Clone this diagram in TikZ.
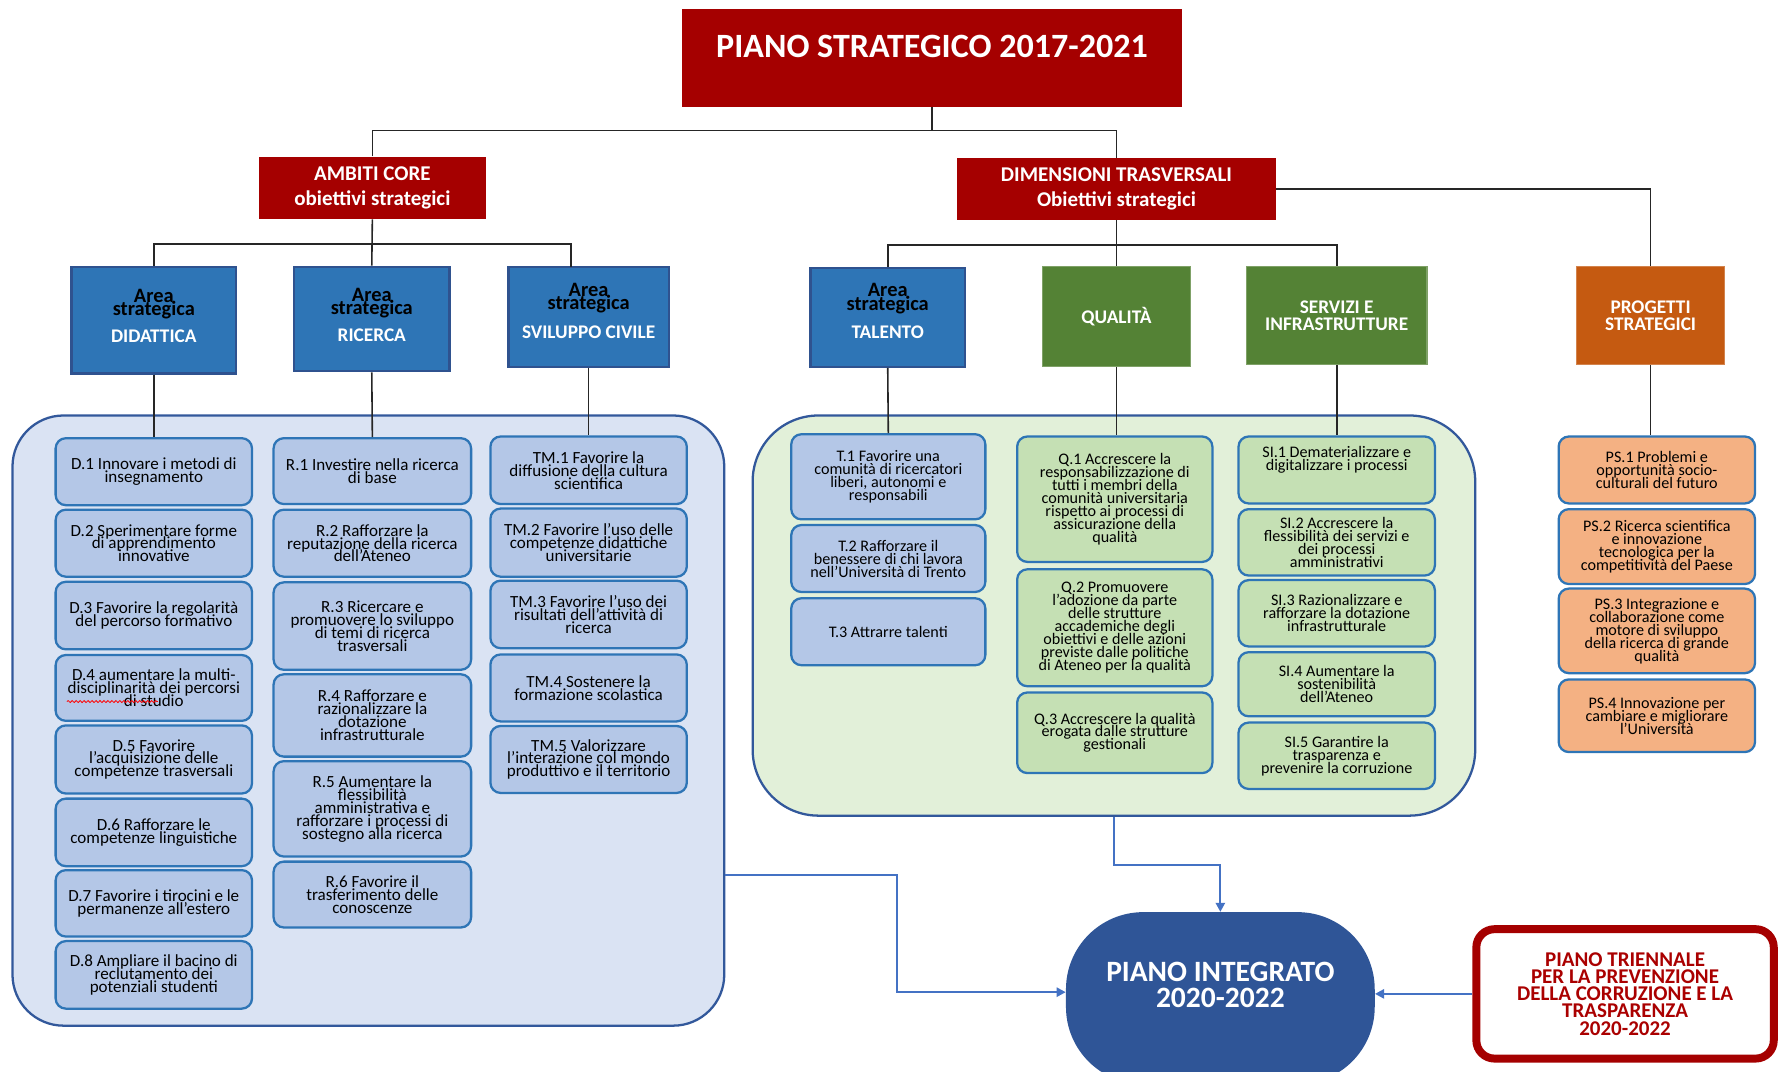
\documentclass[tikz,border=0pt]{standalone}
\usepackage{fontspec}
\setmainfont{Carlito}
\usetikzlibrary{arrows.meta,decorations.pathmorphing,calc}

\definecolor{dred}{RGB}{165,0,0}
\definecolor{ablue}{RGB}{46,117,182}
\definecolor{aborder}{RGB}{47,82,143}
\definecolor{agreen}{RGB}{84,130,53}
\definecolor{aorange}{RGB}{197,90,17}
\definecolor{lblue}{RGB}{180,199,231}
\definecolor{lgreen}{RGB}{197,224,180}
\definecolor{lorange}{RGB}{244,177,131}
\definecolor{sborder}{RGB}{46,117,182}
\definecolor{contLfill}{RGB}{218,227,243}
\definecolor{contRfill}{RGB}{226,240,217}
\definecolor{contborder}{RGB}{50,88,155}
\definecolor{piblue}{RGB}{47,85,151}
\definecolor{arrblue}{RGB}{68,114,196}
\definecolor{trired}{RGB}{170,0,0}

\newcommand\tightlines{\lineskiplimit=-50pt\relax\lineskip=0pt\relax}
\newcommand\fsmall{\fontsize{15}{11.4}\selectfont\tightlines}
\newcommand\fsmallr{\fontsize{14.2}{11.4}\selectfont\tightlines}
\newcommand\farea{\fontsize{18}{12}\selectfont\bfseries\tightlines}
\newcommand\flabel{\fontsize{17}{17}\selectfont\bfseries}
\newcommand\fcond{\fontsize{17}{15}\selectfont\bfseries\tightlines}

\newcommand\mybox[7]{\node[#2, minimum width={(#5-#3)*1pt}, minimum height={(#6-#4)*1pt}] (#1) at ({(#3+#5)/2},{(#4+#6)/2}) {#7};}

\tikzset{
  sbox/.style={draw=sborder, line width=2pt, rounded corners=9pt, inner sep=0pt, align=center, font=\fsmall, text=black},
  sblue/.style={sbox, fill=lblue},
  stal/.style={sbox, fill=lblue, font=\fsmallr},
  sgreen/.style={sbox, fill=lgreen, font=\fsmallr},
  sorange/.style={sbox, fill=lorange, font=\fsmallr},
  areabox/.style={fill=ablue, draw=aborder, line width=2pt, inner sep=0pt},
  areatxt/.style={inner sep=0pt, align=center, font=\farea, text=black},
  arealbl/.style={inner sep=0pt, font=\flabel, text=white},
  gbox/.style={fill=agreen, draw=agreen!75!white, line width=1pt, inner sep=0pt, align=center, font=\fcond, text=white},
  obox/.style={fill=aorange, draw=aorange!75!white, line width=1pt, inner sep=0pt, align=center, font=\fcond, text=white},
  redbox/.style={fill=dred, draw=none, inner sep=0pt, align=center, text=white, font=\fontsize{18.5}{22}\selectfont\bfseries\tightlines},
  titlebox/.style={fill=dred, draw=none, inner sep=0pt},
  titletxt/.style={inner sep=0pt, text=white, font=\fontsize{30}{36}\selectfont\bfseries},
  contL/.style={draw=contborder, line width=2pt, fill=contLfill, rounded corners=45pt, inner sep=0pt},
  contR/.style={draw=contborder, line width=2pt, fill=contRfill, rounded corners=58pt, inner sep=0pt},
  pistyle/.style={fill=piblue, draw=none, rounded corners=68pt, inner sep=0pt},
  pitxt/.style={inner sep=0pt, align=center, text=white, font=\fontsize{26}{23}\selectfont\bfseries\tightlines},
  sitxt/.style={inner sep=0pt, align=center, text=black, font=\fsmallr},
  tristyle/.style={draw=dred, line width=7pt, fill=white, rounded corners=16pt, inner sep=0pt, align=center, text=trired, font=\fontsize{18.5}{15.2}\selectfont\bfseries\tightlines},
  conn/.style={draw=black!85, line width=1.4pt},
  arr/.style={draw=arrblue, line width=2pt, -{Triangle[length=8pt,width=8pt]}},
}

\begin{document}
\begin{tikzpicture}[x=1pt,y=-1pt]
\useasboundingbox (0,0) rectangle (1568,944);
\clip (0,0) rectangle (1568,944);

% containers
\mybox{lcont}{contL}{11}{366}{638}{903.5}{}
\mybox{rcont}{contR}{663}{366}{1299.5}{718.5}{}

% top level
\mybox{title}{titlebox}{601}{8}{1041}{94}{}
\node[titletxt] (titlet) at (821,41) {PIANO STRATEGICO 2017-2021};
\mybox{ambiti}{redbox}{228}{138}{428}{193}{AMBITI CORE\\obiettivi strategici}
\mybox{dim}{redbox}{843}{139}{1124}{194}{DIMENSIONI TRASVERSALI\\Obiettivi strategici}

% area boxes
\mybox{did}{areabox}{63}{235}{208}{329}{}
\node[areatxt] (didA) at (135.5,268) {Area\\strategica};
\node[arealbl] (didL) at (135.5,296) {DIDATTICA};
\mybox{ric}{areabox}{259}{235}{396}{327}{}
\node[areatxt] (ricA) at (327.5,267) {Area\\strategica};
\node[arealbl] (ricL) at (327.5,295) {RICERCA};
\mybox{svi}{areabox}{448}{235}{589}{323}{}
\node[areatxt] (sviA) at (518.5,262.5) {Area\\strategica};
\node[arealbl] (sviL) at (518.5,293) {SVILUPPO CIVILE};
\mybox{tal}{areabox}{714}{236}{850}{323}{}
\node[areatxt] (talA) at (782,263) {Area\\strategica};
\node[arealbl] (talL) at (782,293) {TALENTO};
\mybox{qual}{gbox}{918}{235}{1049}{323}{QUALITÀ}
\mybox{serv}{gbox}{1098}{235}{1257}{321}{SERVIZI E\\INFRASTRUTTURE}
\mybox{prog}{obox}{1389}{235}{1519}{321}{PROGETTI\\STRATEGICI}

% D column
\mybox{d1}{sblue}{49}{386}{222}{445}{D.1 Innovare i metodi di\\insegnamento}
\mybox{d2}{sblue}{49}{449}{222}{508}{D.2 Sperimentare forme\\di apprendimento\\innovative}
\mybox{d3}{sblue}{49}{512.5}{222}{572}{D.3 Favorire la regolarità\\del percorso formativo}
\mybox{d4}{sblue}{49}{577}{222}{635}{D.4 aumentare la multi-\\disciplinarità dei percorsi\\di studio}
\mybox{d5}{sblue}{49}{639}{222}{699}{D.5 Favorire\\l’acquisizione delle\\competenze trasversali}
\mybox{d6}{sblue}{49}{703.5}{222}{763}{D.6 Rafforzare le\\competenze linguistiche}
\mybox{d7}{sblue}{49}{766.5}{222}{825}{D.7 Favorire i tirocini e le\\permanenze all’estero}
\mybox{d8}{sblue}{49}{829}{222}{888.5}{D.8 Ampliare il bacino di\\reclutamento dei\\potenziali studenti}

% R column
\mybox{r1}{sblue}{241}{386}{415}{444}{R.1 Investire nella ricerca\\di base}
\mybox{r2}{sblue}{241}{449}{415}{508}{R.2 Rafforzare la\\reputazione della ricerca\\dell’Ateneo}
\mybox{r3}{sblue}{241}{513}{415}{590}{R.3 Ricercare e\\promuovere lo sviluppo\\di temi di ricerca\\trasversali}
\mybox{r4}{sblue}{241}{594}{415}{666.5}{R.4 Rafforzare e\\razionalizzare la\\dotazione\\infrastrutturale}
\mybox{r5}{sblue}{241}{670.5}{415}{754.5}{R.5 Aumentare la\\flessibilità\\amministrativa e\\rafforzare i processi di\\sostegno alla ricerca}
\mybox{r6}{sblue}{241}{759}{415}{817}{R.6 Favorire il\\trasferimento delle\\conoscenze}

% TM column
\mybox{tm1}{sblue}{432}{384.5}{605}{444}{TM.1 Favorire la\\diffusione della cultura\\scientifica}
\mybox{tm2}{sblue}{432}{448}{605}{508}{TM.2 Favorire l’uso delle\\competenze didattiche\\universitarie}
\mybox{tm3}{sblue}{432}{511.5}{605}{571}{TM.3 Favorire l’uso dei\\risultati dell’attività di\\ricerca}
\mybox{tm4}{sblue}{432}{576.5}{605}{635.5}{TM.4 Sostenere la\\formazione scolastica}
\mybox{tm5}{sblue}{432}{639.5}{605}{698.5}{TM.5 Valorizzare\\l’interazione col mondo\\produttivo e il territorio}

% T column
\mybox{t1}{stal}{697}{382.5}{868}{457.5}{T.1 Favorire una\\comunità di ricercatori\\liberi, autonomi e\\responsabili}
\mybox{t2}{stal}{697}{462.5}{868}{521.5}{T.2 Rafforzare il\\benessere di chi lavora\\nell’Università di Trento}
\mybox{t3}{stal}{697}{527}{868}{586}{T.3 Attrarre talenti}

% Q column
\mybox{q1}{sgreen}{896}{384.5}{1068}{495}{Q.1 Accrescere la\\responsabilizzazione di\\tutti i membri della\\comunità universitaria\\rispetto ai processi di\\assicurazione della\\qualità}
\mybox{q2}{sgreen}{896}{501.5}{1068}{604.5}{Q.2 Promuovere\\l'adozione da parte\\delle strutture\\accademiche degli\\obiettivi e delle azioni\\previste dalle politiche\\di Ateneo per la qualità}
\mybox{q3}{sgreen}{896}{610}{1068}{681}{Q.3 Accrescere la qualità\\erogata dalle strutture\\gestionali}

% SI column
\mybox{si1}{sgreen}{1091}{384.5}{1264}{443.5}{}
\node[sitxt] (si1t) at (1177.5,405) {SI.1 Dematerializzare e\\digitalizzare i processi};
\mybox{si2}{sgreen}{1091}{448.5}{1264}{507}{SI.2 Accrescere la\\flessibilità dei servizi e\\dei processi\\amministrativi}
\mybox{si3}{sgreen}{1091}{511}{1264}{569.5}{SI.3 Razionalizzare e\\rafforzare la dotazione\\infrastrutturale}
\mybox{si4}{sgreen}{1091}{574.5}{1264}{631}{SI.4 Aumentare la\\sostenibilità\\dell’Ateneo}
\mybox{si5}{sgreen}{1091}{636.5}{1264}{695}{SI.5 Garantire la\\trasparenza e\\prevenire la corruzione}

% PS column
\mybox{ps1}{sorange}{1373}{384.5}{1546}{443.5}{PS.1 Problemi e\\opportunità socio-\\culturali del futuro}
\mybox{ps2}{sorange}{1373}{448.5}{1546}{514.5}{PS.2 Ricerca scientifica\\e innovazione\\tecnologica per la\\competitività del Paese}
\mybox{ps3}{sorange}{1373}{518.5}{1546}{593}{PS.3 Integrazione e\\collaborazione come\\motore di sviluppo\\della ricerca di grande\\qualità}
\mybox{ps4}{sorange}{1373}{598.5}{1546}{662.5}{PS.4 Innovazione per\\cambiare e migliorare\\l’Università}

% bottom
\mybox{pi}{pistyle}{939}{803.5}{1211}{955}{}
\node[pitxt] (pit) at (1075,867.5) {PIANO INTEGRATO\\2020-2022};
\mybox{tri}{tristyle}{1300.5}{818.5}{1562.5}{932.5}{PIANO TRIENNALE\\PER LA PREVENZIONE\\DELLA CORRUZIONE E LA\\TRASPARENZA\\2020-2022}

% spell-check underline
\draw[red, line width=0.7pt, decorate, decoration={snake, amplitude=0.9pt, segment length=3.5pt}] (59,618) -- (139,618);

% connectors
\coordinate (tjoin) at (821,115);
\coordinate (ajoin) at (328,215);
\coordinate (djoin) at (983.5,216);
\coordinate (svitop) at (503,235);

\draw[conn] (title.south) -- (tjoin);
\draw[conn] (ambiti.north) |- (tjoin) -| (dim.north);
\draw[conn] (ambiti.south) -- (ric.north);
\draw[conn] (did.north) |- (ajoin) -| (svitop);
\draw[conn] (dim.south) -- (qual.north);
\draw[conn] (tal.north) |- (djoin) -| (serv.north);
\draw[conn] (dim.east) -| (prog.north);
\draw[conn] (did.south) -- (d1.north);
\draw[conn] (ric.south) -- (r1.north);
\draw[conn] (svi.south) -- (tm1.north);
\draw[conn] (tal.south) -- (t1.north);
\draw[conn] (qual.south) -- (qual.south |- q1.north);
\draw[conn] (serv.south) -- (si1.north);
\draw[conn] (prog.south) -- (prog.south |- ps1.north);

% arrows
\coordinate (rbend) at (1075,762);
\coordinate (lstart) at (638,771);
\coordinate (lbend) at (790,874);
\draw[arr] (rcont.south) |- (rbend) -- (pi.north);
\draw[arr] (lcont.east |- lstart) -| (lbend) -- (pi.west |- lbend);
\draw[arr] (tri.west) -- (pi.east |- tri.west);
\end{tikzpicture}
\end{document}
